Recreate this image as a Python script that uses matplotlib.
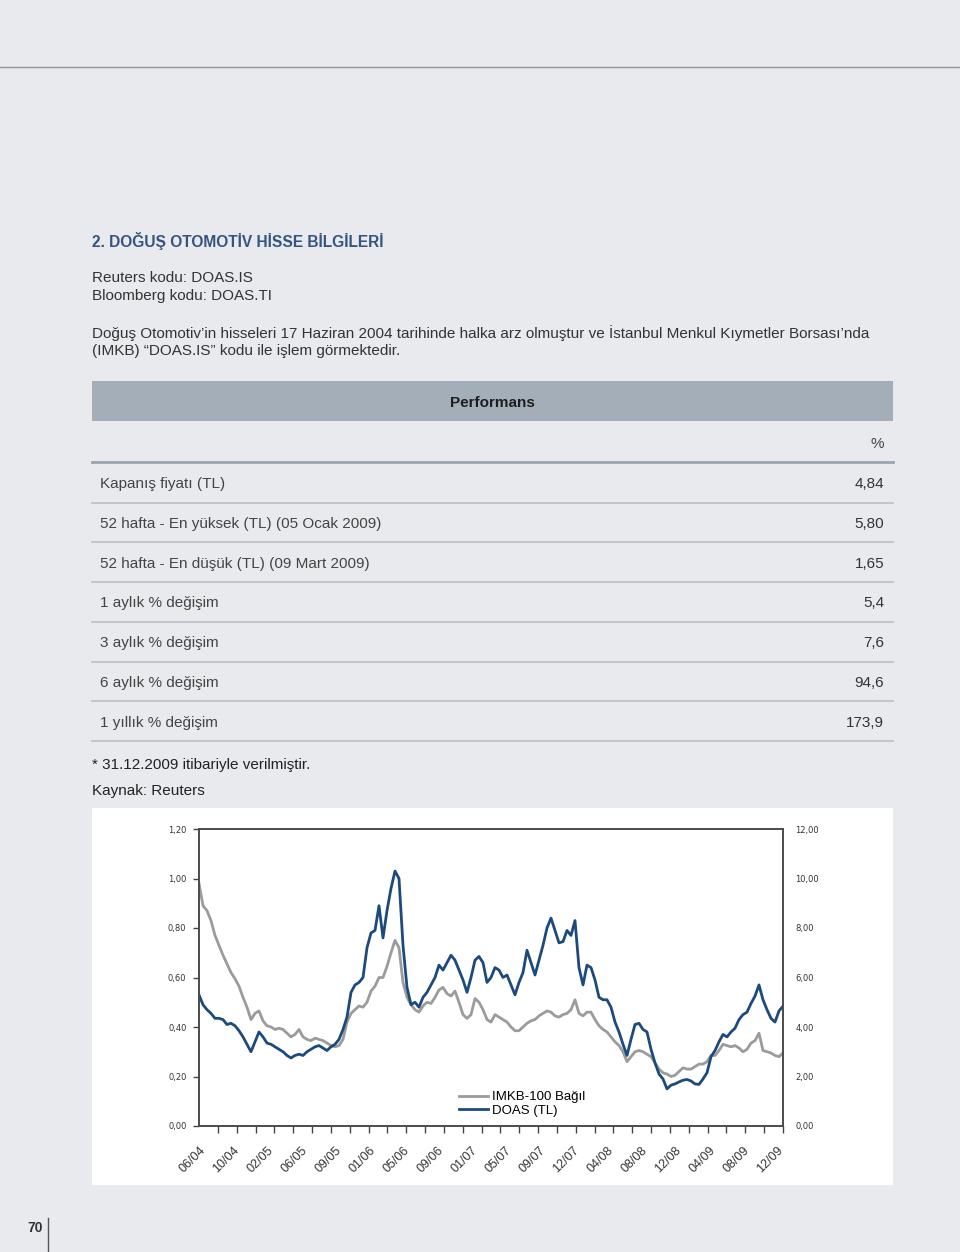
import numpy as np
import matplotlib
matplotlib.use("Agg")
import matplotlib.pyplot as plt
from matplotlib import font_manager
from matplotlib.patches import Rectangle
from matplotlib.lines import Line2D
from matplotlib.ticker import FuncFormatter

# chart data (evenly spaced trading-day samples)
date_labels = ["06/04", "10/04", "02/05", "06/05", "09/05", "01/06", "05/06", "09/06", "01/07",
               "05/07", "09/07", "12/07", "04/08", "08/08", "12/08", "04/09", "08/09", "12/09"]

imkb_rel = [0.98, 0.89, 0.87, 0.83, 0.77, 0.73, 0.69, 0.655, 0.62, 0.595,
            0.565, 0.52, 0.48, 0.43, 0.455, 0.465, 0.425, 0.405, 0.40, 0.39,
            0.395, 0.39, 0.375, 0.36, 0.37, 0.39, 0.36, 0.35, 0.345, 0.355,
            0.35, 0.345, 0.335, 0.325, 0.32, 0.325, 0.35, 0.42, 0.455, 0.47,
            0.485, 0.48, 0.50, 0.545, 0.565, 0.60, 0.60, 0.645, 0.70, 0.75,
            0.72, 0.58, 0.52, 0.49, 0.47, 0.46, 0.485, 0.50, 0.495, 0.52,
            0.55, 0.56, 0.535, 0.525, 0.545, 0.50, 0.45, 0.435, 0.45, 0.515,
            0.50, 0.47, 0.43, 0.42, 0.45, 0.44, 0.43, 0.42, 0.40, 0.385,
            0.385, 0.40, 0.415, 0.425, 0.43, 0.445, 0.455, 0.465, 0.46, 0.445,
            0.44, 0.45, 0.455, 0.47, 0.51, 0.455, 0.445, 0.46, 0.46, 0.43,
            0.405, 0.39, 0.38, 0.36, 0.34, 0.325, 0.30, 0.26, 0.28, 0.30,
            0.305, 0.30, 0.29, 0.28, 0.255, 0.23, 0.215, 0.21, 0.20, 0.205,
            0.22, 0.235, 0.23, 0.23, 0.24, 0.25, 0.25, 0.26, 0.285, 0.285,
            0.305, 0.33, 0.325, 0.32, 0.325, 0.315, 0.30, 0.31, 0.335, 0.345,
            0.375, 0.305, 0.30, 0.295, 0.285, 0.28, 0.295]

doas_tl = [5.3, 4.9, 4.7, 4.55, 4.35, 4.35, 4.3, 4.1, 4.15, 4.05,
           3.85, 3.6, 3.3, 3.0, 3.4, 3.8, 3.6, 3.35, 3.3, 3.2,
           3.1, 3.0, 2.85, 2.75, 2.85, 2.9, 2.85, 3.0, 3.1, 3.2,
           3.25, 3.15, 3.05, 3.2, 3.3, 3.5, 3.9, 4.4, 5.4, 5.7,
           5.8, 6.0, 7.2, 7.8, 7.9, 8.9, 7.6, 8.7, 9.6, 10.3,
           10.0, 7.3, 5.6, 4.9, 5.0, 4.8, 5.2, 5.4, 5.7, 6.0,
           6.5, 6.3, 6.6, 6.9, 6.7, 6.3, 5.9, 5.4, 6.0, 6.7,
           6.85, 6.6, 5.8, 6.0, 6.4, 6.3, 6.0, 6.1, 5.7, 5.3,
           5.8, 6.2, 7.1, 6.6, 6.1, 6.7, 7.3, 8.0, 8.4, 7.9,
           7.4, 7.45, 7.9, 7.7, 8.3, 6.4, 5.7, 6.5, 6.4, 5.9,
           5.2, 5.1, 5.1, 4.8, 4.2, 3.8, 3.3, 2.85, 3.5, 4.1,
           4.15, 3.9, 3.8, 3.1, 2.55, 2.1, 1.9, 1.5, 1.65, 1.7,
           1.78, 1.85, 1.88, 1.82, 1.7, 1.68, 1.9, 2.15, 2.8, 3.05,
           3.4, 3.7, 3.6, 3.8, 3.95, 4.3, 4.5, 4.6, 4.95, 5.25,
           5.7, 5.1, 4.7, 4.35, 4.2, 4.65, 4.84]

# table data
perf_labels = ["Kapanış fiyatı (TL)",
               "52 hafta - En yüksek (TL) (05 Ocak 2009)",
               "52 hafta - En düşük (TL) (09 Mart 2009)",
               "1 aylık % değişim",
               "3 aylık % değişim",
               "6 aylık % değişim",
               "1 yıllık % değişim"]
perf_values = ["4,84", "5,80", "1,65", "5,4", "7,6", "94,6", "173,9"]

W, H = 960, 1252
fig = plt.figure(figsize=(W / 100, H / 100), dpi=100)
fig.patch.set_facecolor("#e8eaed")

installed = {f.name for f in font_manager.fontManager.ttflist}
if "Liberation Sans Narrow" in installed:
    cond_font, cond_size = ["Liberation Sans Narrow", "DejaVu Sans"], 13.2
else:
    cond_font, cond_size = ["Liberation Sans", "DejaVu Sans"], 11
body_font = ["Liberation Sans", "DejaVu Sans"]


def fx(x):
    return x / W


def fy(y):
    return 1 - y / H


def put(x, y, s, **kw):
    fig.text(fx(x), fy(y), s, va="center", **kw)


def hline(x0, x1, y, color, lw):
    fig.add_artist(Line2D([fx(x0), fx(x1)], [fy(y), fy(y)], color=color, lw=lw))


# page header rule
hline(0, 960, 67, "#8e99a4", 1.0)

# heading and intro text
put(92, 241, "2. DOĞUŞ OTOMOTİV HİSSE BİLGİLERİ", fontsize=11.2, fontweight="bold",
    color="#36557e", family=body_font)
put(92, 278, "Reuters kodu: DOAS.IS", fontsize=11, color="#333333", family=body_font)
put(92, 296, "Bloomberg kodu: DOAS.TI", fontsize=11, color="#333333", family=body_font)
put(92, 333, "Doğuş Otomotiv’in hisseleri 17 Haziran 2004 tarihinde halka arz olmuştur ve "
    "İstanbul Menkul Kıymetler Borsası’nda", fontsize=11, color="#333333", family=body_font)
put(92, 351, "(IMKB) “DOAS.IS” kodu ile işlem görmektedir.", fontsize=11, color="#333333",
    family=body_font)

# performance table
fig.add_artist(Rectangle((fx(92), fy(421)), fx(893 - 92), (421 - 381) / H,
                         facecolor="#a3aeb9", edgecolor="none"))
put(492, 403, "Performans", ha="center", fontsize=cond_size, fontweight="bold",
    color="#1e1e1e", family=cond_font)
put(884, 444, "%", ha="right", fontsize=cond_size, color="#444444", family=cond_font)
hline(92, 893, 462, "#9aa5af", 2.0)

row_y = 484
for lab, val in zip(perf_labels, perf_values):
    put(100, row_y, lab, fontsize=cond_size, color="#444444", family=cond_font)
    put(884, row_y, val, ha="right", fontsize=cond_size, color="#333333", family=cond_font)
    hline(92, 893, row_y + 18.5, "#bcc4cb", 1.3)
    row_y += 39.8

put(92, 765, "* 31.12.2009 itibariyle verilmiştir.", fontsize=cond_size, color="#222222",
    family=cond_font)
put(92, 791, "Kaynak: Reuters", fontsize=cond_size, color="#222222", family=cond_font)

# white chart panel, kept behind the axes
fig.add_artist(Rectangle((fx(92), fy(1185)), fx(893 - 92), (1185 - 808) / H,
                         facecolor="white", edgecolor="none", zorder=-2))

# page number
put(35, 1228, "70", ha="center", fontsize=10, fontweight="bold", color="#333333",
    family=cond_font)
fig.add_artist(Line2D([fx(48), fx(48)], [fy(1218), fy(1252)], color="#555555", lw=1.0))

# chart
ax = fig.add_axes([fx(199), fy(1126), fx(783 - 199), (1126 - 829) / H])
ax2 = ax.twinx()
x = np.arange(len(doas_tl))

ax.plot(x, imkb_rel, color="#9b9b9b", lw=2.0, label="IMKB-100 Bağıl")
ax2.plot(x, doas_tl, color="#1c4a7c", lw=2.0, label="DOAS (TL)")

ax.set_xlim(0, len(x) - 1)
ax.set_ylim(0, 1.2)
ax2.set_ylim(0, 12)
ax.set_yticks(np.arange(0, 1.21, 0.2))
ax2.set_yticks(np.arange(0, 12.1, 2))
comma = FuncFormatter(lambda v, p: f"{v:.2f}".replace(".", ","))
ax.yaxis.set_major_formatter(comma)
ax2.yaxis.set_major_formatter(comma)

label_pos = np.linspace(0, (len(x) - 1) * 0.99, len(date_labels))
ax.set_xticks(label_pos)
ax.set_xticklabels(date_labels, rotation=45, ha="right", va="top", rotation_mode="anchor",
                   fontsize=9, color="#333333", family=body_font)
ax.set_xticks(np.linspace(0, len(x) - 1, 32), minor=True)
ax.tick_params(axis="x", which="major", length=0, pad=13)
ax.tick_params(axis="x", which="minor", length=5, width=1.0, color="#444444", direction="out")
ax.tick_params(axis="y", length=4, width=1.0, color="#444444", pad=5, labelsize=6,
               labelcolor="#333333")
ax2.tick_params(axis="y", length=0, pad=9, labelsize=6, labelcolor="#333333")

for a in (ax, ax2):
    for sp in a.spines.values():
        sp.set_color("#4a4a4a")
        sp.set_linewidth(1.2)

h1, l1 = ax.get_legend_handles_labels()
h2, l2 = ax2.get_legend_handles_labels()
ax2.legend(h1 + h2, l1 + l2, loc="lower left", bbox_to_anchor=(0.43, 0.0), frameon=False,
           handlelength=2.2, handletextpad=0.3, labelspacing=0.1,
           borderpad=0.2, prop={"family": body_font, "size": 9.5})

fig.savefig("out.png", dpi=100, facecolor=fig.get_facecolor())
